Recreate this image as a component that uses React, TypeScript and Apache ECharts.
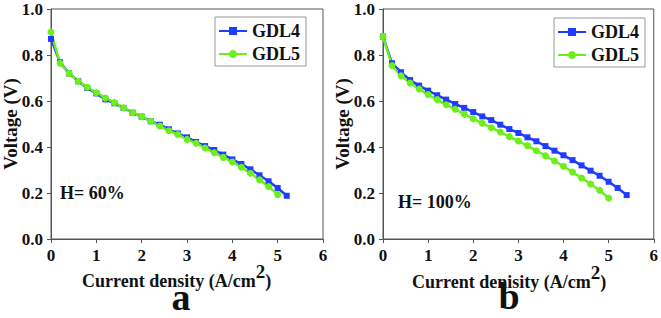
import React, { useEffect, useRef } from "react";
import * as echarts from "echarts";

// Current density (A/cm2)
const xLeft4 = [0, 0.2, 0.4, 0.6, 0.8, 1.0, 1.2, 1.4, 1.6, 1.8, 2.0, 2.2, 2.4, 2.6, 2.8, 3.0, 3.2, 3.4, 3.6, 3.8, 4.0, 4.2, 4.4, 4.6, 4.8, 5.0, 5.2];
const xLeft5 = [0, 0.2, 0.4, 0.6, 0.8, 1.0, 1.2, 1.4, 1.6, 1.8, 2.0, 2.2, 2.4, 2.6, 2.8, 3.0, 3.2, 3.4, 3.6, 3.8, 4.0, 4.2, 4.4, 4.6, 4.8, 5.0];
const xRight4 = [0, 0.2, 0.4, 0.6, 0.8, 1.0, 1.2, 1.4, 1.6, 1.8, 2.0, 2.2, 2.4, 2.6, 2.8, 3.0, 3.2, 3.4, 3.6, 3.8, 4.0, 4.2, 4.4, 4.6, 4.8, 5.0, 5.2, 5.4];
const xRight5 = [0, 0.2, 0.4, 0.6, 0.8, 1.0, 1.2, 1.4, 1.6, 1.8, 2.0, 2.2, 2.4, 2.6, 2.8, 3.0, 3.2, 3.4, 3.6, 3.8, 4.0, 4.2, 4.4, 4.6, 4.8, 5.0];

// Voltage (V)
const vLeft4 = [0.87, 0.768, 0.72, 0.686, 0.657, 0.633, 0.607, 0.59, 0.57, 0.549, 0.532, 0.512, 0.497, 0.477, 0.459, 0.442, 0.422, 0.404, 0.387, 0.367, 0.346, 0.326, 0.303, 0.277, 0.251, 0.222, 0.188];
const vLeft5 = [0.9, 0.764, 0.72, 0.686, 0.66, 0.636, 0.613, 0.593, 0.57, 0.549, 0.532, 0.512, 0.491, 0.471, 0.454, 0.433, 0.416, 0.396, 0.375, 0.355, 0.335, 0.312, 0.286, 0.257, 0.228, 0.193];
const vRight4 = [0.88, 0.764, 0.725, 0.691, 0.667, 0.645, 0.625, 0.606, 0.587, 0.57, 0.552, 0.533, 0.517, 0.497, 0.478, 0.461, 0.442, 0.425, 0.404, 0.384, 0.364, 0.343, 0.32, 0.297, 0.275, 0.249, 0.222, 0.191];
const vRight5 = [0.88, 0.754, 0.71, 0.678, 0.652, 0.628, 0.606, 0.584, 0.564, 0.543, 0.523, 0.503, 0.484, 0.465, 0.445, 0.426, 0.406, 0.384, 0.362, 0.339, 0.316, 0.291, 0.265, 0.239, 0.212, 0.178];

const seriesNames = ["GDL4", "GDL5"];
const panelLetters = ["a", "b"];
const humidityLabels = ["H= 60%", "H= 100%"];
const xAxisTitles = ["Current density (A/cm", "Current denisity (A/cm"];
const yAxisTitle = "Voltage (V)";

const BLUE = "#1f3cff";
const GREEN = "#6cf01c";
const FONT = "Liberation Serif, Times New Roman, DejaVu Serif, serif";

const pairs = (xs: number[], ys: number[]) => xs.map((x, i) => [x, ys[i]]);

export default function App() {
  const ref = useRef<HTMLDivElement>(null);
  useEffect(() => {
    if (!ref.current) return;
    const chart = echarts.init(ref.current, undefined, { renderer: "svg" });

    const grids = [
      { left: 51, top: 9, width: 272, height: 230 },
      { left: 383, top: 9, width: 273, height: 230 },
    ];

    const xAxis = grids.map((_, i) => ({
      type: "value",
      gridIndex: i,
      min: 0,
      max: 6,
      interval: 1,
      axisLine: { show: true, lineStyle: { color: "#555", width: 1 } },
      axisTick: { show: true, inside: false, length: 4, lineStyle: { color: "#555" } },
      axisLabel: { color: "#111", fontFamily: FONT, fontWeight: "bold", fontSize: 17, margin: 8 },
      splitLine: { show: false },
    }));
    const yAxis = grids.map((_, i) => ({
      type: "value",
      gridIndex: i,
      min: 0,
      max: 1,
      interval: 0.2,
      axisLine: { show: true, lineStyle: { color: "#555", width: 1 } },
      axisTick: { show: true, inside: false, length: 4, lineStyle: { color: "#555" } },
      axisLabel: {
        color: "#111",
        fontFamily: FONT,
        fontWeight: "bold",
        fontSize: 17,
        margin: 8,
        formatter: (v: number) => v.toFixed(1),
      },
      splitLine: { show: false },
    }));

    const mk = (name: string, data: number[][], idx: number, color: string, symbol: string) => ({
      type: "line",
      name,
      xAxisIndex: idx,
      yAxisIndex: idx,
      data,
      symbol,
      symbolSize: symbol === "rect" ? 6 : 7,
      showSymbol: true,
      lineStyle: { color, width: 2.5 },
      itemStyle: { color },
      clip: false,
    });

    const legendBase = {
      orient: "vertical",
      data: seriesNames,
      itemWidth: 28,
      itemHeight: 10,
      itemGap: 5,
      padding: [5, 6, 3, 3],
      borderColor: "#999",
      borderWidth: 1,
      selectedMode: false,
      textStyle: { color: "#111", fontFamily: FONT, fontWeight: "bold", fontSize: 18, padding: [0, 0, 0, 0] },
    };

    const xTitle = (i: number, x: number, y: number) => ({
      type: "text",
      x,
      y,
      style: {
        text: `{a|${xAxisTitles[i]}}{s|2}{a|)}`,
        textAlign: "left",
        textVerticalAlign: "middle",
        rich: {
          a: { fontFamily: FONT, fontWeight: "bold", fontSize: 18, lineHeight: 28, verticalAlign: "bottom", fill: "#111", color: "#111" },
          s: { fontFamily: FONT, fontWeight: "bold", fontSize: 19, lineHeight: 18, verticalAlign: "top", fill: "#111", color: "#111" },
        },
      },
    });

    const text = (t: string, x: number, y: number, size: number, rot = 0, align = "center", lh?: number) => ({
      type: "text",
      x,
      y,
      rotation: rot,
      style: {
        text: t,
        fontFamily: FONT,
        fontWeight: "bold",
        fontSize: size,
        lineHeight: lh,
        fill: "#111",
        textAlign: align,
        textVerticalAlign: "middle",
      },
    });

    chart.setOption({
      animation: false,
      backgroundColor: "#fff",
      textStyle: { fontFamily: FONT },
      grid: grids.map((g) => ({ ...g, show: true, borderColor: "#555", borderWidth: 1, backgroundColor: "transparent" })),
      xAxis,
      yAxis,
      legend: [
        { ...legendBase, left: 215, top: 17 },
        { ...legendBase, left: 554, top: 18 },
      ],
      series: [
        mk(seriesNames[0], pairs(xLeft4, vLeft4), 0, BLUE, "rect"),
        mk(seriesNames[1], pairs(xLeft5, vLeft5), 0, GREEN, "circle"),
        mk(seriesNames[0], pairs(xRight4, vRight4), 1, BLUE, "rect"),
        mk(seriesNames[1], pairs(xRight5, vRight5), 1, GREEN, "circle"),
      ],
      graphic: [
        text(yAxisTitle, 10, 124, 19, Math.PI / 2),
        text(yAxisTitle, 342, 124, 19, Math.PI / 2),
        xTitle(0, 82, 276),
        xTitle(1, 412, 277),
        text(humidityLabels[0], 60, 193, 18, 0, "left"),
        text(humidityLabels[1], 398, 202, 18, 0, "left"),
        text(panelLetters[0], 181, 297, 38, 0, "center", 26),
        text(panelLetters[1], 509, 296, 38, 0, "center", 26),
      ],
    });
    return () => chart.dispose();
  }, []);
  return <div ref={ref} style={{ position: "fixed", left: 0, top: 0, width: 661, height: 318, background: "#fff" }} />;
}
